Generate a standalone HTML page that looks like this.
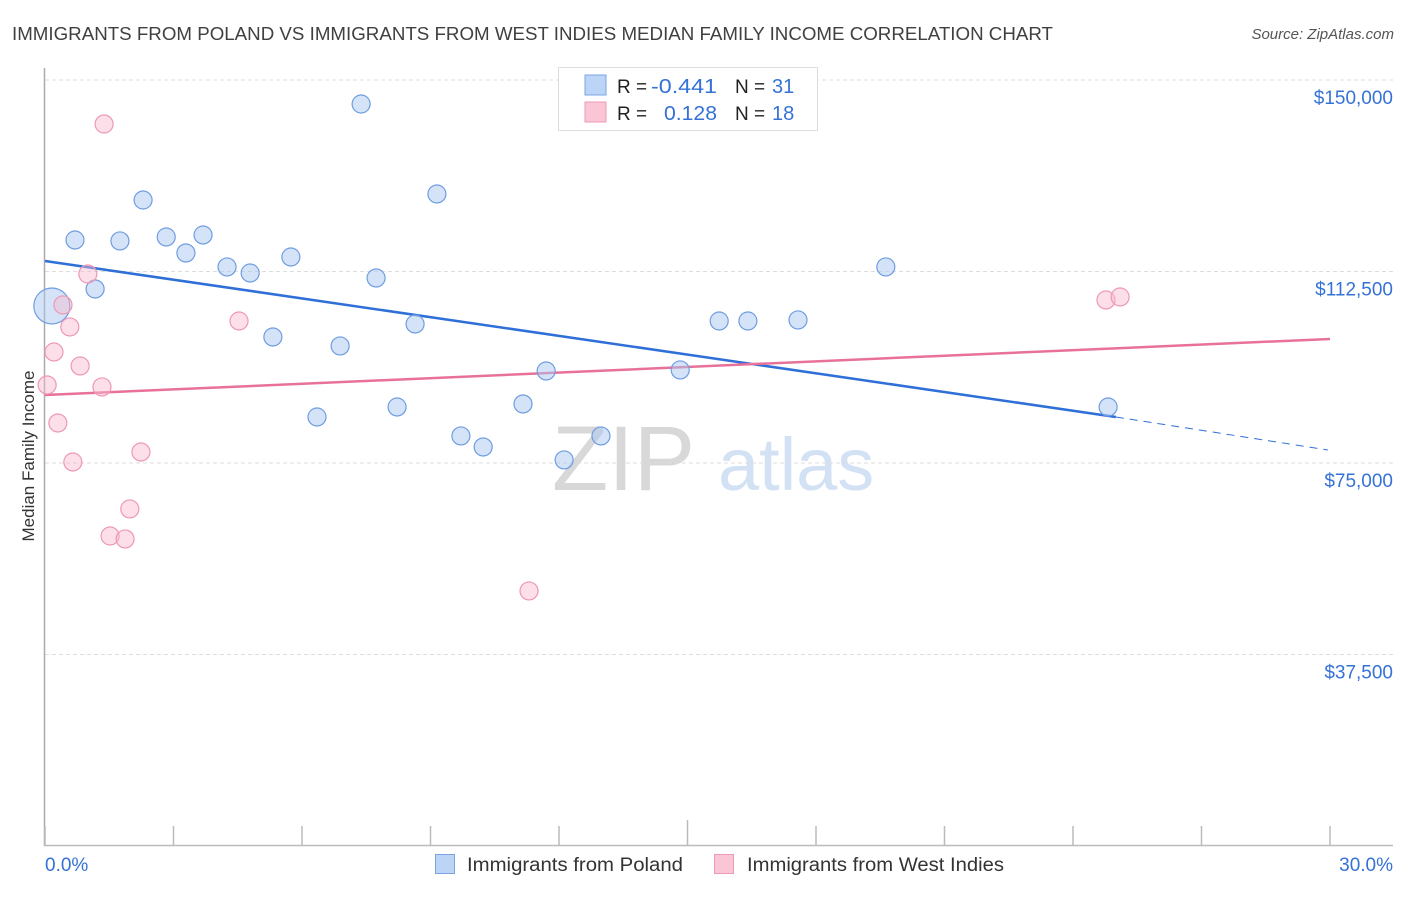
<!DOCTYPE html>
<html><head><meta charset="utf-8"><style>
body{margin:0;background:#fff;font-family:"Liberation Sans",sans-serif}
svg text{font-family:"Liberation Sans",sans-serif}
</style></head><body>
<svg id="chart" width="1406" height="892" xmlns="http://www.w3.org/2000/svg">
<text x="12" y="40" font-size="18.5" fill="#404040" textLength="1041" lengthAdjust="spacingAndGlyphs">IMMIGRANTS FROM POLAND VS IMMIGRANTS FROM WEST INDIES MEDIAN FAMILY INCOME CORRELATION CHART</text>
<text x="1394" y="39" font-size="15" fill="#555" text-anchor="end" font-style="italic">Source: ZipAtlas.com</text>
<text transform="translate(34,456) rotate(-90)" font-size="17" fill="#333" text-anchor="middle">Median Family Income</text>
<g><text x="552" y="490" font-size="92" fill="#d8d8d8" font-family="Liberation Serif,serif">ZIP</text><text x="718" y="490" font-size="74" fill="#d3e1f5">atlas</text></g>
<g id="grid"></g><g id="axes"></g><g id="trends"></g><g id="pts"></g>
<g>
<rect x="558.5" y="67.5" width="259" height="63" fill="#fff" stroke="#ddd"/>
<rect x="585" y="75" width="21" height="20" fill="#bcd4f6" stroke="#7aa5e4"/>
<rect x="585" y="102" width="21" height="20" fill="#fac6d6" stroke="#ee9ab6"/>
<text x="617" y="93" font-size="19" fill="#222">R = </text><text x="651" y="93" font-size="20" fill="#3572d6" textLength="66" lengthAdjust="spacingAndGlyphs">-0.441</text>
<text x="735" y="93" font-size="19" fill="#222">N = </text><text x="772" y="93" font-size="20" fill="#3572d6">31</text>
<text x="617" y="120" font-size="19" fill="#222">R = </text><text x="664" y="120" font-size="20" fill="#3572d6" textLength="53" lengthAdjust="spacingAndGlyphs">0.128</text>
<text x="735" y="120" font-size="19" fill="#222">N = </text><text x="772" y="120" font-size="20" fill="#3572d6">18</text>
</g>
<g>
<rect x="435.5" y="854.5" width="19" height="19" fill="#bcd4f6" stroke="#7aa5e4"/>
<text x="467" y="871" font-size="19" fill="#333" textLength="216" lengthAdjust="spacingAndGlyphs">Immigrants from Poland</text>
<rect x="714.5" y="854.5" width="19" height="19" fill="#fac6d6" stroke="#ee9ab6"/>
<text x="747" y="871" font-size="19" fill="#333" textLength="257" lengthAdjust="spacingAndGlyphs">Immigrants from West Indies</text>
</g>
</svg>
<script>
const yTicks=[37500,75000,112500,150000];
const yTickLabels=["$37,500","$75,000","$112,500","$150,000"];
const xTickLabels=["0.0%","30.0%"];
const polandX=[0.16,0.70,1.17,1.75,2.29,2.83,3.29,3.69,4.25,4.79,5.32,5.74,6.35,6.89,7.38,7.73,8.22,8.64,9.15,9.71,10.23,11.16,11.70,12.12,12.98,14.83,15.74,16.41,17.58,19.63,24.82];
const polandY=[105750,118670,109080,118480,126500,119260,116130,119650,113390,112210,99680,115340,84010,97920,145300,111230,85970,102220,127680,80300,78140,86560,93020,75600,80300,93220,102810,102810,103010,113390,85970];
const polandSize=[2,1,1,1,1,1,1,1,1,1,1,1,1,1,1,1,1,1,1,1,1,1,1,1,1,1,1,1,1,1,1];
const wiX=[0.05,0.21,0.30,0.42,0.58,0.65,0.82,1.00,1.33,1.38,1.52,1.87,1.98,2.24,4.53,11.30,24.77,25.10];
const wiY=[90280,96740,82840,105950,101640,75200,94000,112010,89890,141380,60710,60130,66000,77160,102810,49950,106920,107510];
const polandTrendX=[0,25,29.95];
const polandTrendY=[114560,84010,77550];
const wiTrendX=[0,30];
const wiTrendY=[88320,99290];
const NS="http://www.w3.org/2000/svg";
const sx=v=>45+v/3*128.5;
const sy=v=>846-v/37500*191.5;
function mk(tag,attrs,parent){const e=document.createElementNS(NS,tag);for(const k in attrs)e.setAttribute(k,attrs[k]);document.getElementById(parent).appendChild(e);return e;}
yTicks.forEach((t,i)=>{
  const l=mk('line',{x1:45,x2:1393,y1:sy(t),y2:sy(t),stroke:'#ddd','stroke-dasharray':'4,3'},'grid');
  
  
  const tx=mk('text',{x:1393,y:sy(t)+24,'font-size':19,fill:'#3572d6','text-anchor':'end'},'grid');
  tx.textContent=yTickLabels[i];
  
  
});
const ya=mk('line',{x1:44.5,x2:44.5,y1:68,y2:846,stroke:'#aaa','stroke-width':1.5},'axes');


const xa=mk('line',{x1:44,x2:1393,y1:845.5,y2:845.5,stroke:'#bbb','stroke-width':1.5},'axes');


for(let i=0;i<=10;i++){
  const x=sx(i*3);
  const t=mk('line',{x1:x,x2:x,y1:i==5?820:826,y2:846,stroke:'#bbb','stroke-width':1.5},'axes');
  
  
}
[[0,45,'start'],[30,1393,'end']].forEach((a,i)=>{
  const t=mk('text',{x:a[1],y:871,'font-size':19,fill:'#3572d6','text-anchor':a[2]},'axes');
  t.textContent=xTickLabels[i];
  
  
});
const bt=mk('line',{x1:sx(polandTrendX[0]),y1:sy(polandTrendY[0]),x2:sx(polandTrendX[1]),y2:sy(polandTrendY[1]),stroke:'#2f6fd8','stroke-width':2.5},'trends');


const bd=mk('line',{x1:sx(polandTrendX[1]),y1:sy(polandTrendY[1]),x2:sx(polandTrendX[2]),y2:sy(polandTrendY[2]),stroke:'#2f6fd8','stroke-width':1,'stroke-dasharray':'8,6'},'trends');


const pt=mk('line',{x1:sx(wiTrendX[0]),y1:sy(wiTrendY[0]),x2:sx(wiTrendX[1]),y2:sy(wiTrendY[1]),stroke:'#e8719a','stroke-width':2.5},'trends');


polandX.forEach((x,i)=>{
  const c=mk('circle',{cx:sx(x),cy:sy(polandY[i]),r:polandSize[i]>1?18:9,fill:'rgba(170,200,242,0.5)',stroke:'#6f9de0','stroke-width':1.2},'pts');
  
  
});
wiX.forEach((x,i)=>{
  const c=mk('circle',{cx:sx(x),cy:sy(wiY[i]),r:9,fill:'rgba(248,185,205,0.45)',stroke:'#ee98b4','stroke-width':1.2},'pts');
  
  
});
</script>
</body></html>
